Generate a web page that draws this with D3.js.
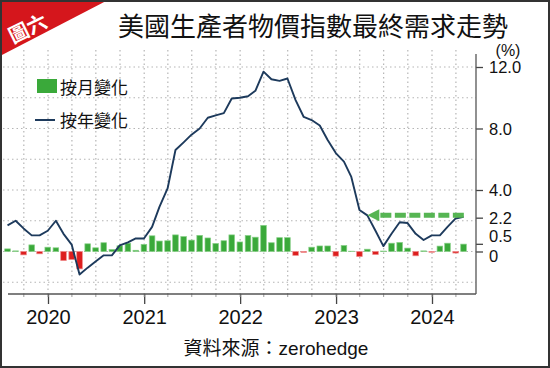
<!DOCTYPE html>
<html>
<head>
<meta charset="utf-8">
<script src="https://cdn.jsdelivr.net/npm/d3@7"></script>
<style>
body { margin: 0; background: #fff; }
text { font-family: "Liberation Sans", Arial, sans-serif; fill: #111; }
.cjk { font-family: "Noto Sans CJK TC", "Noto Sans CJK SC", sans-serif; }
</style>
</head>
<body>
<div id="chart-area"></div>
<script>
// monthly data, first value = Jul 2019
var firstMonth = [2019, 6];

// 按年變化 (%)
var yoyChange = [1.7, 2.0, 1.5, 1.05, 1.05, 1.35,
    2.0, 1.15, 0.45, -1.5, -1.05, -0.65, -0.25, -0.25, 0.4, 0.6, 0.85, 0.85,
    1.6, 2.9, 4.1, 6.6, 7.1, 7.6, 8.0, 8.7, 8.85, 9.0, 9.95, 10.0,
    10.1, 10.45, 11.7, 11.2, 11.1, 11.25, 9.85, 8.75, 8.55, 8.2, 7.25, 6.4,
    5.85, 4.85, 2.7, 2.35, 1.35, 0.35, 1.15, 1.9, 1.85, 1.15, 0.75, 1.05,
    1.05, 1.6, 2.15, 2.25];

// 按月變化 (%)
var momChange = [0.17, 0.04, -0.22, 0.43, -0.15, 0.28,
    0.24, -0.59, -0.52, -1.13, 0.5, 0.24, 0.57, 0.13, 0.37, 0.54, 0.08, 0.46,
    1.02, 0.68, 0.7, 1.08, 0.97, 0.74, 1.05, 0.88, 0.52, 0.7, 1.08, 0.62,
    1.04, 0.93, 1.7, 0.57, 0.9, 0.9, -0.25, -0.06, 0.28, 0.36, 0.36, -0.3,
    0.39, 0.02, -0.33, 0.15, -0.2, 0.03, 0.54, 0.59, 0.22, -0.28, 0.04, -0.05,
    0.35, 0.54, -0.1, 0.48];

var yearTicks = [2020, 2021, 2022, 2023, 2024];
var yTickValues = [0, 0.5, 2.2, 4, 8, 12];
var gridValues = [-2, 0, 2, 4, 6, 8, 10, 12];

// green dashed arrow (level, from / to)
var arrowLevel = 2.35;
var arrowSpan = [new Date(2023, 3, 30), new Date(2024, 4, 5)];

var width = 550, height = 368;
var plotLeft = 3, plotRight = 476, plotTop = 50, plotBottom = 294;

var green = "#3aa93a", red = "#dd1f1f", navy = "#1d3a5c";

// month end dates
var dates = yoyChange.map(function (d, i) {
    return new Date(firstMonth[0], firstMonth[1] + i + 1, 0);
});

var svg = d3.select("#chart-area")
    .append("svg")
    .attr("width", width)
    .attr("height", height);

var x = d3.scaleTime()
    .domain([new Date(2020, 0, 1), new Date(2024, 0, 1)])
    .range([48, 432]);

var y = d3.scaleLinear()
    .domain([0, 12])
    .range([251.5, 67]);

// badge
svg.append("polygon")
    .attr("points", "0,0 108,0 0,56")
    .attr("fill", "#d5161c");
svg.append("text")
    .attr("class", "cjk")
    .attr("transform", "translate(31,35) rotate(-26)")
    .attr("text-anchor", "middle")
    .attr("font-size", "20px")
    .attr("font-weight", "bold")
    .style("fill", "#fff")
    .text("圖六");

// title
svg.append("text")
    .attr("class", "cjk")
    .attr("x", 313)
    .attr("y", 36)
    .attr("text-anchor", "middle")
    .attr("font-size", "26px")
    .text("美國生產者物價指數最終需求走勢");

// grid
var quarters = d3.timeMonth.every(3).range(x.invert(plotLeft), x.invert(plotRight));
svg.append("g")
    .selectAll("line")
    .data(quarters)
    .enter()
    .append("line")
    .attr("x1", function (d) { return x(d); })
    .attr("x2", function (d) { return x(d); })
    .attr("y1", plotTop)
    .attr("y2", plotBottom)
    .attr("stroke", "#b5b5b5")
    .attr("stroke-width", 1.2)
    .attr("stroke-dasharray", "1.5,3");

svg.append("g")
    .selectAll("line")
    .data(gridValues)
    .enter()
    .append("line")
    .attr("x1", plotLeft)
    .attr("x2", plotRight)
    .attr("y1", function (d) { return y(d); })
    .attr("y2", function (d) { return y(d); })
    .attr("stroke", "#b5b5b5")
    .attr("stroke-width", 1.2)
    .attr("stroke-dasharray", "1.5,3");

// bars
svg.append("g")
    .selectAll("rect")
    .data(momChange)
    .enter()
    .append("rect")
    .attr("x", function (d, i) { return x(dates[i]) - 2.8; })
    .attr("width", 5.6)
    .attr("y", function (d) { return y(Math.max(0, d)); })
    .attr("height", function (d) { return Math.abs(y(d) - y(0)); })
    .attr("fill", function (d) { return d >= 0 ? green : red; })
    .attr("stroke", function (d) { return d >= 0 ? "#86cf86" : "#ef8a8a"; })
    .attr("stroke-width", 0.7);

// line
var line = d3.line()
    .x(function (d, i) { return x(dates[i]); })
    .y(function (d) { return y(d); });

svg.append("path")
    .datum(yoyChange)
    .attr("d", line)
    .attr("fill", "none")
    .attr("stroke", navy)
    .attr("stroke-width", 1.9)
    .attr("stroke-linejoin", "round");

// arrow
var ay = y(arrowLevel);
var ax0 = x(arrowSpan[0]), ax1 = x(arrowSpan[1]);
svg.append("line")
    .attr("x1", ax0 + 13)
    .attr("x2", ax1)
    .attr("y1", ay)
    .attr("y2", ay)
    .attr("stroke", "#56b553")
    .attr("stroke-width", 5)
    .attr("stroke-dasharray", "11,3.5");
svg.append("path")
    .attr("d", "M" + ax0 + "," + ay + "L" + (ax0 + 12) + "," + (ay - 6) +
        "L" + (ax0 + 12) + "," + (ay + 6) + "Z")
    .attr("fill", "#56b553");

// x axis
var xAxisCall = d3.axisBottom(x)
    .tickValues(yearTicks.map(function (d) { return new Date(d, 0, 1); }))
    .tickFormat(d3.timeFormat("%Y"))
    .tickSize(10)
    .tickPadding(6);
var xg = svg.append("g")
    .attr("transform", "translate(0," + plotBottom + ")")
    .call(xAxisCall);
xg.select(".domain").remove();
xg.selectAll("line").attr("stroke", "#444").attr("stroke-width", 1.3);
xg.selectAll("text").attr("font-size", "20px").style("font-family", "Liberation Sans, Arial, sans-serif").style("fill", "#111");

svg.append("g")
    .selectAll("line")
    .data(quarters)
    .enter()
    .append("line")
    .attr("x1", function (d) { return x(d); })
    .attr("x2", function (d) { return x(d); })
    .attr("y1", plotBottom)
    .attr("y2", plotBottom + 3)
    .attr("stroke", "#999");

svg.append("line")
    .attr("x1", 8)
    .attr("x2", plotRight)
    .attr("y1", plotBottom)
    .attr("y2", plotBottom)
    .attr("stroke", "#555")
    .attr("stroke-width", 1.3);

// y axis (right)
var yAxisCall = d3.axisRight(y)
    .tickValues(yTickValues)
    .tickFormat(function (d) { return d === 0 ? "0" : d.toFixed(1); })
    .tickSize(7)
    .tickPadding(6);
var yg = svg.append("g")
    .attr("transform", "translate(" + plotRight + ",0)")
    .call(yAxisCall);
yg.select(".domain").remove();
yg.selectAll("line").attr("stroke", "#444").attr("stroke-width", 1.3);
yg.selectAll("text")
    .attr("font-size", "16.5px")
    .style("font-family", "Liberation Sans, Arial, sans-serif")
    .style("fill", "#111")
    .attr("dy", function (d) {
        // 0.5 and 0 sit close together: nudge them apart
        if (d === 0.5) return "-2px";
        if (d === 0) return "9.5px";
        return "0.35em";
    });

svg.append("line")
    .attr("x1", plotRight)
    .attr("x2", plotRight)
    .attr("y1", 54)
    .attr("y2", plotBottom)
    .attr("stroke", "#555")
    .attr("stroke-width", 1.3);

svg.append("text")
    .attr("x", 508)
    .attr("y", 56)
    .attr("text-anchor", "middle")
    .attr("font-size", "16px")
    .text("(%)");

// legend
svg.append("rect")
    .attr("x", 37).attr("y", 79)
    .attr("width", 20).attr("height", 14)
    .attr("fill", green);
svg.append("text")
    .attr("class", "cjk")
    .attr("x", 60).attr("y", 94)
    .attr("font-size", "17px")
    .text("按月變化");
svg.append("line")
    .attr("x1", 35).attr("x2", 55)
    .attr("y1", 120).attr("y2", 120)
    .attr("stroke", navy).attr("stroke-width", 2);
svg.append("text")
    .attr("class", "cjk")
    .attr("x", 60).attr("y", 127)
    .attr("font-size", "17px")
    .text("按年變化");

// source
var src = svg.append("text")
    .attr("x", 276)
    .attr("y", 355)
    .attr("text-anchor", "middle")
    .attr("font-size", "19px");
src.append("tspan").attr("class", "cjk").text("資料來源：");
src.append("tspan").text("zerohedge");

// frame
svg.append("rect")
    .attr("x", 1).attr("y", 1)
    .attr("width", width - 2).attr("height", height - 2)
    .attr("fill", "none")
    .attr("stroke", "#333")
    .attr("stroke-width", 2);
</script>
</body>
</html>
